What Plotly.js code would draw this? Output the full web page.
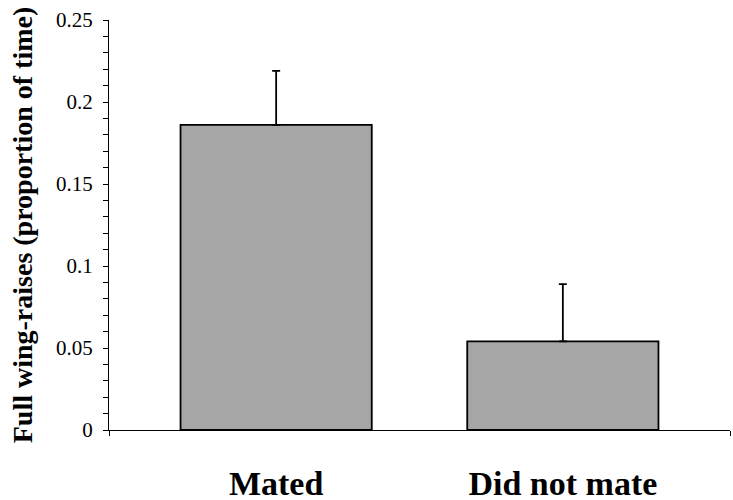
<!DOCTYPE html>
<html>
<head>
<meta charset="utf-8">
<script src="https://cdn.plot.ly/plotly-3.0.1.min.js"></script>
<style>
  html, body { margin: 0; padding: 0; background: #fff; }
  #plot { width: 733px; height: 500px; }
</style>
</head>
<body>
<div id="plot"></div>
<script>
// bar chart data
const groups = ['Mated', 'Did not mate'];
const wingRaises = [0.186, 0.054];
const errUpper = [0.033, 0.035];

const xRange = [-0.583, 1.583];

const serif = 'Liberation Serif, Times New Roman, serif';

const plotData = [{
    type: 'bar',
    x: groups,
    y: wingRaises,
    width: 0.667,
    marker: {color: '#a6a6a6', line: {color: '#000', width: 1.8}},
    error_y: {
        type: 'data',
        symmetric: false,
        array: errUpper,
        arrayminus: [0, 0],
        color: '#000',
        thickness: 1.8,
        width: 4
    },
    hoverinfo: 'x+y'
}, {
    // dummy trace so the x-axis end ticks get drawn
    type: 'scatter',
    x: xRange,
    y: [0, 0],
    xaxis: 'x2',
    mode: 'none',
    hoverinfo: 'skip',
    showlegend: false
}];

const layout = {
    width: 733,
    height: 500,
    margin: {l: 109, r: 3, t: 20, b: 70},
    showlegend: false,
    plot_bgcolor: '#fff',
    paper_bgcolor: '#fff',
    font: {family: serif, color: '#000'},
    xaxis: {
        type: 'category',
        range: xRange,
        showline: true,
        linecolor: '#000',
        linewidth: 1,
        ticks: '',
        showgrid: false,
        zeroline: false,
        tickfont: {family: serif, size: 34, color: '#000', weight: 'bold'},
        ticklabelstandoff: 23
    },
    xaxis2: {
        overlaying: 'x',
        range: xRange,
        tickvals: xRange,
        showticklabels: false,
        ticks: 'outside',
        ticklen: 5,
        tickcolor: '#000',
        showgrid: false,
        zeroline: false,
        showline: false,
        side: 'bottom'
    },
    yaxis: {
        range: [0, 0.25],
        dtick: 0.05,
        tick0: 0,
        showline: true,
        linecolor: '#000',
        linewidth: 1,
        ticks: 'outside',
        ticklen: 5,
        tickcolor: '#000',
        showgrid: false,
        zeroline: false,
        tickfont: {family: serif, size: 21, color: '#000'},
        ticklabelstandoff: 6,
        minor: {dtick: 0.01, ticks: 'outside', ticklen: 5, tickcolor: '#000', showgrid: false},
        title: {
            text: '<b>Full wing-raises (proportion of time)</b>',
            font: {family: serif, size: 28, color: '#000'},
            standoff: 15
        }
    },
    bargap: 0.33
};

Plotly.newPlot('plot', plotData, layout, {displayModeBar: false, staticPlot: true});
</script>
</body>
</html>
